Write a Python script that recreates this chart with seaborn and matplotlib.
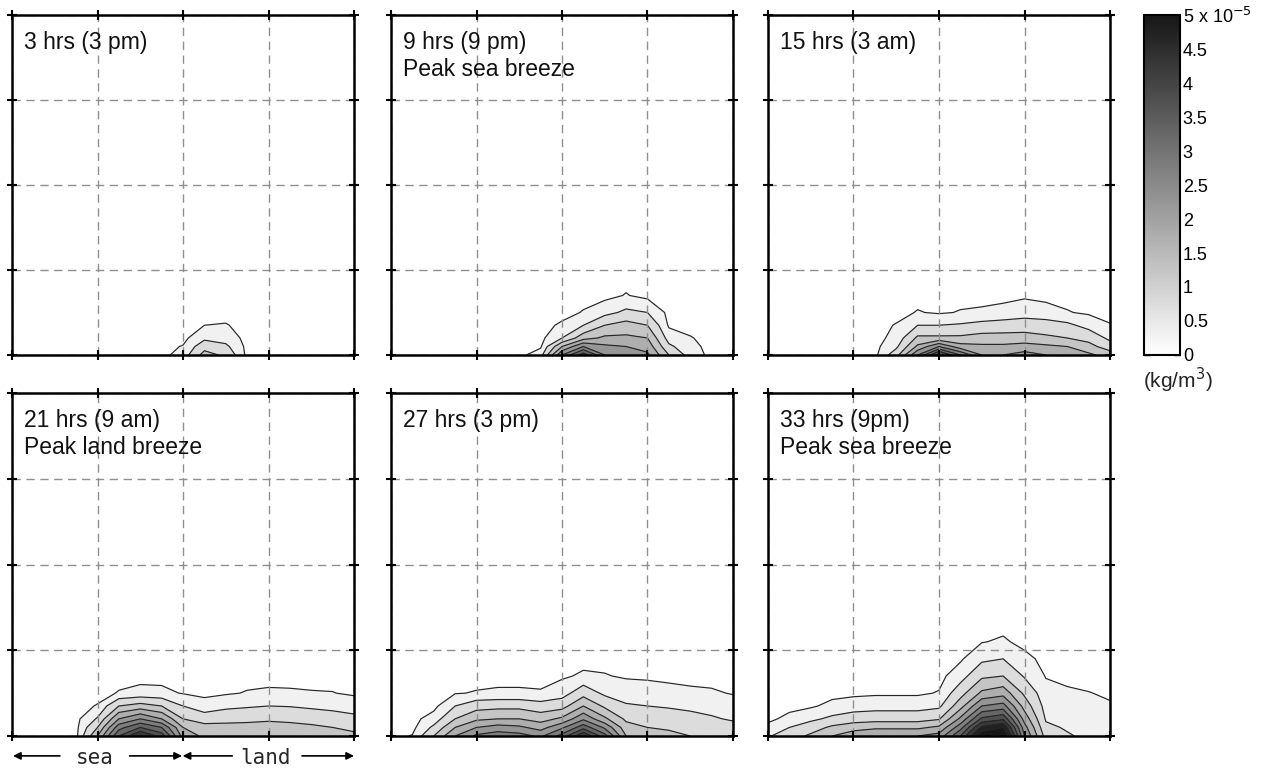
import numpy as np
import matplotlib as mpl
import matplotlib.pyplot as plt
import seaborn as sns

# grid of the model output (4 distance units across, heights in the same units)
x_pos = [0, 0.25, 0.5, 0.75, 1.0, 1.25, 1.5, 1.75, 2.0, 2.25, 2.5, 2.75, 3.0, 3.25, 3.5, 3.75, 4.0]
z_pos = [0, 0.1, 0.2, 0.35, 0.5, 0.7, 0.9, 1.1, 1.3]

levels = [0.1, 0.5, 1.0, 1.5, 2.0, 2.5, 3.0, 3.5, 4.0, 4.5, 5.0]
cbar_ticks = [0, 0.5, 1, 1.5, 2, 2.5, 3, 3.5, 4, 4.5, 5]
cbar_labels = ['0', '0.5', '1', '1.5', '2', '2.5', '3', '3.5', '4', '4.5', '5 x 10$^{-5}$']

titles = [['3 hrs (3 pm)'],
          ['9 hrs (9 pm)', 'Peak sea breeze'],
          ['15 hrs (3 am)'],
          ['21 hrs (9 am)', 'Peak land breeze'],
          ['27 hrs (3 pm)'],
          ['33 hrs (9pm)', 'Peak sea breeze']]

# concentration (x 1e-5 kg/m3), one row per height in z_pos
conc_03h = [
    [0, 0, 0, 0, 0, 0, 0, 0, 0.25, 1.2, 0.9, 0, 0, 0, 0, 0, 0],
    [0, 0, 0, 0, 0, 0, 0, 0, 0.12, 0.8, 0.6, 0, 0, 0, 0, 0, 0],
    [0, 0, 0, 0, 0, 0, 0, 0, 0, 0.4, 0.3, 0, 0, 0, 0, 0, 0],
    [0, 0, 0, 0, 0, 0, 0, 0, 0, 0.1, 0.12, 0, 0, 0, 0, 0, 0],
    [0, 0, 0, 0, 0, 0, 0, 0, 0, 0, 0, 0, 0, 0, 0, 0, 0],
    [0, 0, 0, 0, 0, 0, 0, 0, 0, 0, 0, 0, 0, 0, 0, 0, 0],
    [0, 0, 0, 0, 0, 0, 0, 0, 0, 0, 0, 0, 0, 0, 0, 0, 0],
    [0, 0, 0, 0, 0, 0, 0, 0, 0, 0, 0, 0, 0, 0, 0, 0, 0],
    [0, 0, 0, 0, 0, 0, 0, 0, 0, 0, 0, 0, 0, 0, 0, 0, 0],
]
conc_09h = [
    [0, 0, 0, 0, 0, 0, 0, 0.3, 2.5, 3.8, 2.5, 2.2, 2.1, 1.0, 0.3, 0, 0],
    [0, 0, 0, 0, 0, 0, 0, 0.05, 1.5, 2.5, 2.1, 2.0, 1.8, 0.6, 0.2, 0, 0],
    [0, 0, 0, 0, 0, 0, 0, 0, 0.5, 1.3, 1.6, 1.6, 1.5, 0.3, 0.12, 0, 0],
    [0, 0, 0, 0, 0, 0, 0, 0, 0.15, 0.5, 1.0, 1.2, 1.0, 0.05, 0, 0, 0],
    [0, 0, 0, 0, 0, 0, 0, 0, 0, 0.12, 0.35, 0.6, 0.5, 0, 0, 0, 0],
    [0, 0, 0, 0, 0, 0, 0, 0, 0, 0, 0, 0.12, 0, 0, 0, 0, 0],
    [0, 0, 0, 0, 0, 0, 0, 0, 0, 0, 0, 0, 0, 0, 0, 0, 0],
    [0, 0, 0, 0, 0, 0, 0, 0, 0, 0, 0, 0, 0, 0, 0, 0, 0],
    [0, 0, 0, 0, 0, 0, 0, 0, 0, 0, 0, 0, 0, 0, 0, 0, 0],
]
conc_15h = [
    [0, 0, 0, 0, 0, 0, 0.8, 2.5, 4.2, 3.0, 2.0, 2.0, 2.2, 2.0, 1.8, 1.6, 1.3],
    [0, 0, 0, 0, 0, 0, 0.4, 1.6, 2.5, 1.7, 1.6, 1.6, 1.7, 1.6, 1.5, 1.2, 0.7],
    [0, 0, 0, 0, 0, 0, 0.2, 1.1, 1.1, 1.1, 1.2, 1.2, 1.2, 1.1, 1.0, 0.8, 0.4],
    [0, 0, 0, 0, 0, 0, 0.12, 0.5, 0.5, 0.55, 0.65, 0.7, 0.75, 0.7, 0.6, 0.35, 0.12],
    [0, 0, 0, 0, 0, 0, 0, 0.12, 0.06, 0.12, 0.15, 0.22, 0.3, 0.25, 0.12, 0.05, 0],
    [0, 0, 0, 0, 0, 0, 0, 0, 0, 0, 0, 0, 0.05, 0, 0, 0, 0],
    [0, 0, 0, 0, 0, 0, 0, 0, 0, 0, 0, 0, 0, 0, 0, 0, 0],
    [0, 0, 0, 0, 0, 0, 0, 0, 0, 0, 0, 0, 0, 0, 0, 0, 0],
    [0, 0, 0, 0, 0, 0, 0, 0, 0, 0, 0, 0, 0, 0, 0, 0, 0],
]
conc_21h = [
    [0, 0, 0, 0, 1.5, 3.5, 4.6, 3.8, 1.8, 1.4, 1.5, 1.5, 1.5, 1.4, 1.3, 1.2, 1.1],
    [0, 0, 0, 0, 1.0, 2.8, 3.5, 3.0, 1.5, 1.2, 1.2, 1.2, 1.25, 1.2, 1.1, 1.0, 0.9],
    [0, 0, 0, 0, 0.55, 2.0, 2.5, 2.0, 1.0, 0.75, 0.8, 0.85, 0.9, 0.85, 0.8, 0.7, 0.62],
    [0, 0, 0, 0, 0.12, 1.0, 1.2, 1.0, 0.5, 0.25, 0.4, 0.45, 0.5, 0.48, 0.42, 0.38, 0.3],
    [0, 0, 0, 0, 0, 0.12, 0.2, 0.18, 0.08, 0.02, 0.06, 0.12, 0.15, 0.14, 0.12, 0.11, 0.05],
    [0, 0, 0, 0, 0, 0, 0, 0, 0, 0, 0, 0, 0, 0, 0, 0, 0],
    [0, 0, 0, 0, 0, 0, 0, 0, 0, 0, 0, 0, 0, 0, 0, 0, 0],
    [0, 0, 0, 0, 0, 0, 0, 0, 0, 0, 0, 0, 0, 0, 0, 0, 0],
    [0, 0, 0, 0, 0, 0, 0, 0, 0, 0, 0, 0, 0, 0, 0, 0, 0],
]
conc_27h = [
    [0, 0.12, 1.0, 2.0, 2.6, 2.8, 2.7, 2.4, 3.2, 4.5, 3.2, 1.5, 1.2, 1.1, 1.0, 0.95, 0.9],
    [0, 0, 0.6, 1.5, 2.0, 2.2, 2.1, 1.8, 2.4, 3.3, 2.4, 1.2, 1.0, 0.95, 0.85, 0.75, 0.65],
    [0, 0, 0.25, 1.0, 1.4, 1.5, 1.5, 1.3, 1.6, 2.4, 1.6, 0.9, 0.8, 0.75, 0.65, 0.55, 0.45],
    [0, 0, 0, 0.5, 0.8, 0.85, 0.85, 0.7, 0.8, 1.5, 0.9, 0.55, 0.5, 0.45, 0.4, 0.35, 0.25],
    [0, 0, 0, 0.08, 0.12, 0.15, 0.15, 0.13, 0.3, 0.8, 0.4, 0.3, 0.25, 0.2, 0.17, 0.14, 0.08],
    [0, 0, 0, 0, 0, 0, 0, 0, 0.05, 0.15, 0.12, 0.06, 0.05, 0.03, 0, 0, 0],
    [0, 0, 0, 0, 0, 0, 0, 0, 0, 0, 0, 0, 0, 0, 0, 0, 0],
    [0, 0, 0, 0, 0, 0, 0, 0, 0, 0, 0, 0, 0, 0, 0, 0, 0],
    [0, 0, 0, 0, 0, 0, 0, 0, 0, 0, 0, 0, 0, 0, 0, 0, 0],
]
conc_33h = [
    [0.45, 0.75, 1.1, 1.5, 1.8, 2.0, 2.0, 2.0, 2.2, 3.5, 5.5, 5.8, 2.5, 0.8, 0.55, 0.4, 0.3],
    [0.2, 0.5, 0.75, 1.1, 1.3, 1.4, 1.4, 1.4, 1.6, 2.8, 4.6, 5.0, 2.2, 0.6, 0.45, 0.35, 0.25],
    [0.02, 0.2, 0.4, 0.6, 0.75, 0.8, 0.8, 0.8, 0.95, 2.1, 3.6, 3.9, 1.8, 0.45, 0.35, 0.28, 0.2],
    [0, 0, 0.05, 0.2, 0.28, 0.32, 0.32, 0.32, 0.4, 1.3, 2.5, 2.7, 1.3, 0.32, 0.25, 0.2, 0.13],
    [0, 0, 0, 0, 0.03, 0.05, 0.05, 0.05, 0.12, 0.8, 1.6, 1.8, 0.9, 0.22, 0.15, 0.11, 0.06],
    [0, 0, 0, 0, 0, 0, 0, 0, 0, 0.3, 0.9, 1.0, 0.45, 0.08, 0.02, 0, 0],
    [0, 0, 0, 0, 0, 0, 0, 0, 0, 0.05, 0.4, 0.5, 0.2, 0, 0, 0, 0],
    [0, 0, 0, 0, 0, 0, 0, 0, 0, 0, 0.08, 0.15, 0, 0, 0, 0, 0],
    [0, 0, 0, 0, 0, 0, 0, 0, 0, 0, 0, 0, 0, 0, 0, 0, 0],
]
panels = [conc_03h, conc_09h, conc_15h, conc_21h, conc_27h, conc_33h]

sns.set_theme(style='white')
plt.rcParams['font.family'] = ['Liberation Sans', 'DejaVu Sans']
cmap = sns.blend_palette(['#ffffff', '#161616'], as_cmap=True)
norm = mpl.colors.Normalize(vmin=0, vmax=5)

W, H = 1261, 768
fig = plt.figure(figsize=(W / 100, H / 100), dpi=100)

col_left = [12, 391, 768]
row_top = [15, 393]
row_h = [340, 343]
pw = 342

X, Z = np.meshgrid(x_pos, z_pos)
axes = []
for k, conc in enumerate(panels):
    r, c = divmod(k, 3)
    ax = fig.add_axes([col_left[c] / W, 1 - (row_top[r] + row_h[r]) / H, pw / W, row_h[r] / H])
    C = np.array(conc)
    ax.contourf(X, Z, C, levels=levels, cmap=cmap, norm=norm, extend='max')
    ax.contour(X, Z, C, levels=levels, colors='#262626', linewidths=0.85)
    ax.set_xlim(0, 4)
    ax.set_ylim(0, 4)
    ax.set_xticks([0, 1, 2, 3, 4])
    ax.set_yticks([0, 1, 2, 3, 4])
    ax.set_axisbelow(False)
    ax.grid(True, color='#8f8f8f', linestyle=(0, (6, 4)), linewidth=1)
    ax.tick_params(direction='inout', length=7, width=1.5, color='black',
                   bottom=True, top=True, left=True, right=True,
                   labelbottom=False, labelleft=False)
    for sp in ax.spines.values():
        sp.set_color('black')
        sp.set_linewidth(1.8)
        sp.set_zorder(3)
    for j, line in enumerate(titles[k]):
        ax.text(0.036, 1 - (34 + 26.7 * j) / row_h[r], line, transform=ax.transAxes,
                fontsize=16.5, color='#111111', va='baseline', ha='left')
    axes.append(ax)

# colour bar
cax = fig.add_axes([1144 / W, 1 - 355 / H, 36 / W, 340 / H])
sm = mpl.cm.ScalarMappable(norm=norm, cmap=cmap)
cb = fig.colorbar(sm, cax=cax, ticks=cbar_ticks)
cb.ax.set_yticklabels(cbar_labels)
cb.outline.set_linewidth(1.5)
cb.outline.set_edgecolor('black')
cax.tick_params(axis='y', direction='in', length=4, width=1, left=True, right=True,
                labelsize=13, pad=2, colors='black')
fig.text(1143 / W, 1 - 380 / H, '(kg/m$^3$)', fontsize=15, ha='left', va='center')

# sea / land arrows under the lower left panel
ax4 = axes[3]
arrow = dict(arrowstyle='-|>', color='black', lw=1.2, mutation_scale=11, shrinkA=0, shrinkB=0)
ya = -0.058
for x0, x1 in [(0.14, 0.003), (0.344, 0.497), (0.644, 0.499), (0.848, 1.0)]:
    ax4.annotate('', xy=(x1, ya), xytext=(x0, ya), xycoords='axes fraction',
                 arrowprops=arrow, annotation_clip=False)
for xt, word in [(0.242, 'sea'), (0.743, 'land')]:
    ax4.text(xt, -0.082, word, transform=ax4.transAxes, fontsize=15,
             family='DejaVu Sans Mono', ha='center', va='baseline')

fig.savefig('out.png', dpi=100)
